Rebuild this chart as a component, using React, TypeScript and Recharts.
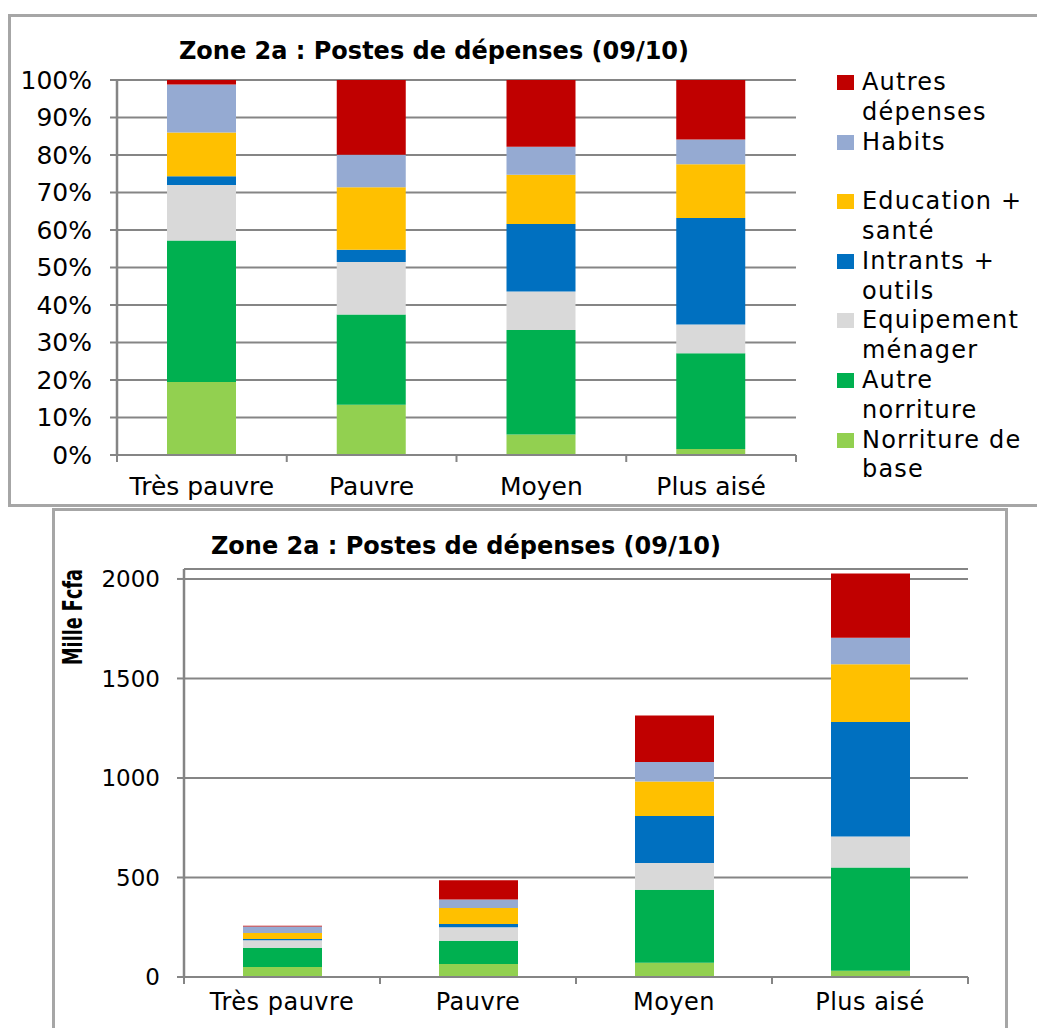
import React from 'react';
import { BarChart, Bar, XAxis, YAxis, CartesianGrid } from 'recharts';

// ---------- data (mille Fcfa) ----------
const categories = ['Très pauvre', 'Pauvre', 'Moyen', 'Plus aisé'];
const norritureBase = [50, 65, 72, 32];
const autreNorriture = [97, 117, 366, 518];
const equipementMenager = [38, 68, 135, 156];
const intrantsOutils = [6, 16, 236, 575];
const educationSante = [30, 81, 173, 290];
const habits = [33, 42, 98, 134];
const autresDepenses = [3, 97, 234, 322];

const percentTicks = [0, 0.1, 0.2, 0.3, 0.4, 0.5, 0.6, 0.7, 0.8, 0.9, 1];
const valueTicks = [0, 500, 1000, 1500, 2000];
const positionTicks = [0, 0.5, 1, 1.5, 2, 2.5, 3, 3.5, 4];

const TITLE = 'Zone 2a : Postes de dépenses (09/10)';
const Y_LABEL = 'Mille Fcfa';

const seriesDefs = [
  { key: 'base', name: 'Norriture de base', values: norritureBase, color: '#92D050' },
  { key: 'autreNour', name: 'Autre norriture', values: autreNorriture, color: '#00B050' },
  { key: 'equip', name: 'Equipement ménager', values: equipementMenager, color: '#D9D9D9' },
  { key: 'intrants', name: 'Intrants + outils', values: intrantsOutils, color: '#0070C0' },
  { key: 'edu', name: 'Education + santé', values: educationSante, color: '#FFC000' },
  { key: 'habits', name: 'Habits', values: habits, color: '#95AAD2' },
  { key: 'autres', name: 'Autres dépenses', values: autresDepenses, color: '#C00000' },
];

const data = categories.map((c, i) => {
  const row: Record<string, number | string> = { category: c, pos: i + 0.5 };
  seriesDefs.forEach((s) => {
    row[s.key] = s.values[i];
  });
  return row;
});

// ---------- styles ----------
const FONT = '"DejaVu Sans", Verdana, sans-serif';
const AXIS = '#858585';
const BORDER = '#A6A6A6';

const fmtPct = (v: number) => `${Math.round(v * 100)}%`;

const makeXTick = (fontSize: number, labelDy: number, letterSpacing: number) => (props: any) => {
  const { x, y, payload } = props;
  const v = Number(payload.value);
  if (Math.abs(v - Math.round(v)) < 1e-9) {
    return <line x1={x} x2={x} y1={y} y2={y + 7} stroke={AXIS} strokeWidth={2} />;
  }
  const label = categories[Math.floor(v)];
  return (
    <text
      x={x}
      y={y + labelDy}
      textAnchor="middle"
      fontSize={fontSize}
      fontFamily={FONT}
      letterSpacing={letterSpacing}
      fill="#000"
    >
      {label}
    </text>
  );
};

const TopXTick = makeXTick(25, 40, 0);
const BottomXTick = makeXTick(24, 33, 0.5);

const MilleLabel = (props: any) => {
  const vb = props.viewBox || { x: 0, y: 0 };
  const cx = vb.x + 73;
  const cy = vb.y + 48;
  return (
    <text
      x={cx}
      y={cy}
      transform={`rotate(-90 ${cx} ${cy})`}
      textAnchor="middle"
      dominantBaseline="central"
      fontSize={26}
      fontWeight="bold"
      fontFamily={'"Liberation Sans Narrow", "DejaVu Sans Condensed", "DejaVu Sans", sans-serif'}
      textLength={96}
      lengthAdjust="spacingAndGlyphs"
      fill="#000"
    >
      {Y_LABEL}
    </text>
  );
};

const titleStyle = (centerX: number, top: number): React.CSSProperties => ({
  position: 'absolute',
  left: centerX - 300,
  top,
  width: 600,
  textAlign: 'center',
  fontFamily: FONT,
  fontWeight: 'bold',
  fontSize: 24,
  lineHeight: '24px',
  color: '#000',
  whiteSpace: 'nowrap',
});

const legendItems = [...seriesDefs].reverse();

export default function App() {
  return (
    <div
      style={{
        position: 'absolute',
        left: 0,
        top: 0,
        width: 1037,
        height: 1028,
        background: '#fff',
        overflow: 'hidden',
      }}
    >
      {/* frames */}
      <div
        style={{
          position: 'absolute',
          left: 8,
          top: 14,
          width: 1045,
          height: 493,
          boxSizing: 'border-box',
          border: `3px solid ${BORDER}`,
        }}
      />
      <div
        style={{
          position: 'absolute',
          left: 52,
          top: 508,
          width: 956,
          height: 560,
          boxSizing: 'border-box',
          border: `3px solid ${BORDER}`,
        }}
      />

      {/* top chart: 100% stacked */}
      <div style={{ position: 'absolute', left: 0, top: 0 }}>
        <BarChart
          width={1037}
          height={510}
          data={data}
          stackOffset="expand"
          margin={{ top: 80, right: 241, bottom: 15, left: 0 }}
        >
          <CartesianGrid vertical={false} stroke={AXIS} strokeWidth={2} />
          <XAxis
            dataKey="pos"
            type="number"
            domain={[0, 4]}
            ticks={positionTicks}
            interval={0}
            allowDataOverflow
            tick={TopXTick}
            tickLine={false}
            tickSize={0}
            tickMargin={0}
            axisLine={{ stroke: AXIS, strokeWidth: 2 }}
            height={40}
          />
          <YAxis
            type="number"
            domain={[0, 1]}
            ticks={percentTicks}
            interval={0}
            tickFormatter={fmtPct}
            width={117}
            tickSize={7}
            tickMargin={18}
            tickLine={{ stroke: AXIS, strokeWidth: 2 }}
            axisLine={{ stroke: AXIS, strokeWidth: 2.5 }}
            tick={{ fontSize: 25, fill: '#000', fontFamily: FONT }}
          />
          {seriesDefs.map((s) => (
            <Bar
              key={s.key}
              dataKey={s.key}
              name={s.name}
              stackId="a"
              fill={s.color}
              barSize={69}
              isAnimationActive={false}
            />
          ))}
        </BarChart>
      </div>

      <div style={titleStyle(434, 39)}>{TITLE}</div>

      {/* legend for top chart */}
      <div style={{ position: 'absolute', left: 837, top: 68, width: 200 }}>
        {legendItems.map((s) => (
          <div key={s.key} style={{ position: 'relative', height: 59.6 }}>
            <div
              style={{
                position: 'absolute',
                left: 0,
                top: 7,
                width: 17,
                height: 15,
                background: s.color,
              }}
            />
            <div
              style={{
                position: 'absolute',
                left: 25,
                top: 0,
                width: 172,
                fontFamily: FONT,
                fontSize: 24,
                lineHeight: '29.8px',
                letterSpacing: 1.2,
                color: '#000',
              }}
            >
              {s.name}
            </div>
          </div>
        ))}
      </div>

      {/* bottom chart: absolute values */}
      <div style={{ position: 'absolute', left: 0, top: 509 }}>
        <BarChart
          width={1037}
          height={519}
          data={data}
          margin={{ top: 60, right: 69, bottom: 11, left: 0 }}
        >
          <CartesianGrid vertical={false} stroke={AXIS} strokeWidth={2} />
          <XAxis
            dataKey="pos"
            type="number"
            domain={[0, 4]}
            ticks={positionTicks}
            interval={0}
            allowDataOverflow
            tick={BottomXTick}
            tickLine={false}
            tickSize={0}
            tickMargin={0}
            axisLine={{ stroke: AXIS, strokeWidth: 2 }}
            height={40}
          />
          <YAxis
            type="number"
            domain={[0, 2050]}
            ticks={valueTicks}
            interval={0}
            width={184}
            tickSize={7}
            tickMargin={17}
            tickLine={{ stroke: AXIS, strokeWidth: 2 }}
            axisLine={{ stroke: AXIS, strokeWidth: 2.5 }}
            tick={{ fontSize: 23, fill: '#000', fontFamily: FONT }}
            label={<MilleLabel />}
          />
          {seriesDefs.map((s) => (
            <Bar
              key={s.key}
              dataKey={s.key}
              name={s.name}
              stackId="b"
              fill={s.color}
              barSize={79}
              isAnimationActive={false}
            />
          ))}
        </BarChart>
      </div>

      <div style={titleStyle(466, 534)}>{TITLE}</div>
    </div>
  );
}
